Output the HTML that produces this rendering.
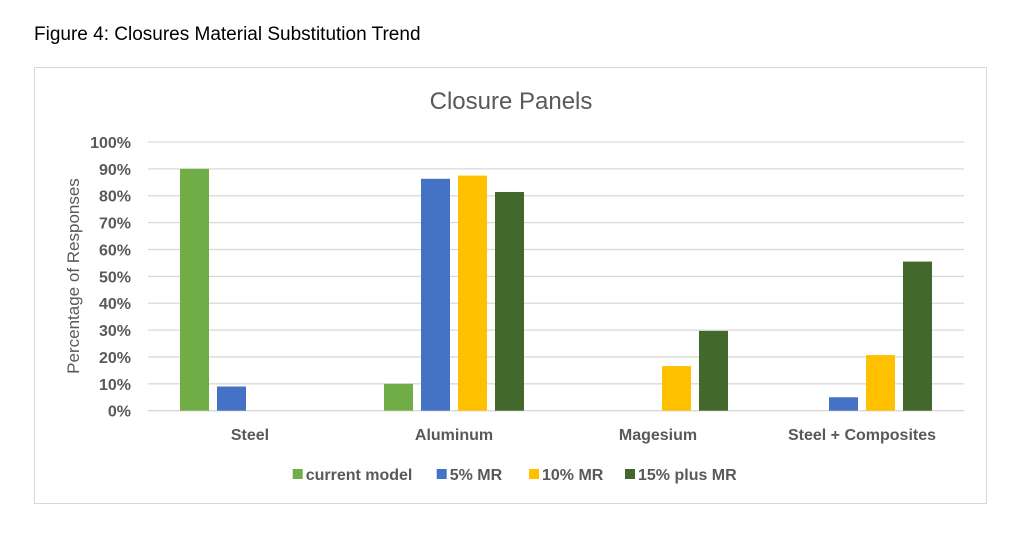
<!DOCTYPE html>
<html><head><meta charset="utf-8"><style>
body{margin:0;background:#fff;width:1024px;height:532px;overflow:hidden;font-family:"Liberation Sans",sans-serif}
</style></head><body>
<svg width="1024" height="532" xmlns="http://www.w3.org/2000/svg">
<text x="34" y="40" font-size="19" fill="#000">Figure 4: Closures Material Substitution Trend</text>
<rect x="34.5" y="67.5" width="952" height="436" fill="#fff" stroke="#d9d9d9"/>
<text x="511" y="109" font-size="24" fill="#595959" text-anchor="middle">Closure Panels</text>
<text transform="translate(79,276) rotate(-90)" font-size="17" fill="#595959" text-anchor="middle">Percentage of Responses</text>
<g id="grid"></g><g id="bars"></g><g id="labels"></g><g id="legend"></g>
</svg>
<script>
const categories=["Steel","Aluminum","Magesium","Steel + Composites"];
const seriesNames=["current model","5% MR","10% MR","15% plus MR"];
const currentModel=[90,10,0,0];
const mr5=[9,86.3,0,5];
const mr10=[0,87.5,16.6,20.7];
const mr15=[0,81.4,29.7,55.5];
const yTicks=[0,10,20,30,40,50,60,70,80,90,100];
const colors=["#70ad47","#4472c4","#ffc000","#43682b"];
const series=[currentModel,mr5,mr10,mr15];
const NS="http://www.w3.org/2000/svg";
const x0=148,x1=964,y0=410.7,y100=142;
const y=v=>y0-(y0-y100)*v/100;
const catW=(x1-x0)/categories.length;
const barW=29,step=37;
const grid=document.getElementById('grid'),bars=document.getElementById('bars'),labels=document.getElementById('labels'),legend=document.getElementById('legend');
function mk(tag,attrs,parent){const e=document.createElementNS(NS,tag);for(const k in attrs)e.setAttribute(k,attrs[k]);parent.appendChild(e);return e;}
yTicks.forEach(t=>{
  const l=mk('line',{x1:x0,x2:x1,y1:y(t),y2:y(t),stroke:'#d9d9d9','stroke-width':1.3},grid);
  
  
  const tx=mk('text',{x:131,y:y(t)+6,'font-size':16,'font-weight':'bold',fill:'#595959','text-anchor':'end'},labels);
  tx.textContent=t+'%';
  
  
});
categories.forEach((c,i)=>{
  const cx=x0+catW*(i+0.5);
  const gs=cx-(3*step+barW)/2;
  series.forEach((s,j)=>{
    const v=s[i]; if(!v) return;
    const r=mk('rect',{x:gs+j*step,y:y(v),width:barW,height:y0-y(v),fill:colors[j]},bars);
    
    
  });
  const tx=mk('text',{x:cx,y:440,'font-size':16,'font-weight':'bold',fill:'#595959','text-anchor':'middle'},labels);
  tx.textContent=c;
  
  
});
const legX=[292.7,436.7,529,625];
seriesNames.forEach((n,j)=>{
  const r=mk('rect',{x:legX[j],y:469,width:10,height:10,fill:colors[j]},legend);
  
  
  const t=mk('text',{x:legX[j]+13,y:480,'font-size':16,'font-weight':'bold',fill:'#595959'},legend);
  t.textContent=n;
  
  
});
</script>
</body></html>
